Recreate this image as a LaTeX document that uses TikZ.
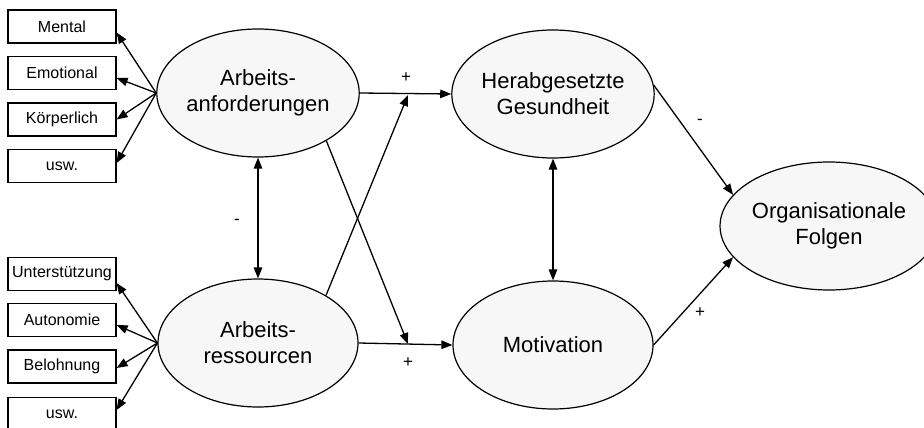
\documentclass[tikz,border=0pt]{standalone}
\usepackage{fontspec}
\setmainfont{Liberation Sans}
\usetikzlibrary{arrows.meta,shapes.geometric}

\begin{document}
\begin{tikzpicture}[x=1pt,y=-1pt,
  box/.style={draw, line width=1.2pt, fill=white, minimum width=108pt, minimum height=33pt,
              inner sep=0pt, font=\fontsize{16}{19}\selectfont},
  latent/.style={draw, ellipse, line width=1.2pt, fill=black!3, minimum width=200pt,
                 minimum height=128pt, inner sep=0pt, align=center,
                 font=\fontsize{22}{26}\selectfont},
  tip/.tip={Triangle[length=11pt,width=8.5pt]},
  link/.style={line width=1.3pt, -tip},
  both/.style={line width=1.3pt, tip-tip},
  sign/.style={font=\fontsize{17}{20}\selectfont}]
\clip (0,0) rectangle (924,428);

% indicator boxes for job demands
\node[box] (mental) at (62,26.5) {Mental};
\node[box] (emot)   at (62,73)   {Emotional};
\node[box] (koerp)  at (62,119.5) {Körperlich};
\node[box] (usw1)   at (62,166)  {usw.};

% indicator boxes for job resources
\node[box] (unter)  at (62,274)  {Unterstützung};
\node[box] (auto)   at (62,320)  {Autonomie};
\node[box] (belohn) at (62,366.5) {Belohnung};
\node[box] (usw2)   at (62,414)  {usw.};

% latent constructs
\node[latent] (anf) at (258,93)  {Arbeits-\\anforderungen};
\node[latent] (res) at (258,343) {Arbeits-\\ressourcen};
\node[latent] (ges) at (553,94)  {Herabgesetzte\\Gesundheit};
\node[latent] (mot) at (553,345) {Motivation};
\node[latent, minimum width=188pt] (org) at (829,226) {Organisationale\\Folgen};

% fan-out to the indicators
\draw[link] (anf.west) -- ([yshift=-6pt]mental.east);
\draw[link] (anf.west) -- ([yshift=-5pt]emot.east);
\draw[link] (anf.west) -- (koerp.east);
\draw[link] (anf.west) -- ([yshift=3pt]usw1.east);
\draw[link] (res.west) -- ([yshift=-9pt]unter.east);
\draw[link] (res.west) -- ([yshift=-5pt]auto.east);
\draw[link] (res.west) -- ([yshift=-1.5pt]belohn.east);
\draw[link] (res.west) -- ([yshift=4pt]usw2.east);

% correlations
\draw[both] (anf.south) -- (res.north);
\draw[both] (ges.south) -- (mot.north);

% paths
\coordinate (hitG) at (408,95);
\coordinate (hitM) at (408,344);
\draw[link] (anf.east) -- (ges.west);
\draw[link] (res.east) -- (mot.west);
\draw[link] (anf.-35) -- (hitM);
\draw[link] (res.35) -- (hitG);
\draw[link] (ges.5) -- (org.162);
\draw[link] (mot.east) -- (org.198);

% signs
\node[sign] (s1) at (406,78)  {+};
\node[sign] (s2) at (408,363) {+};
\node[sign] (s3) at (237,222) {-};
\node[sign] (s4) at (700,122) {-};
\node[sign] (s5) at (700,313) {+};
\end{tikzpicture}
\end{document}
